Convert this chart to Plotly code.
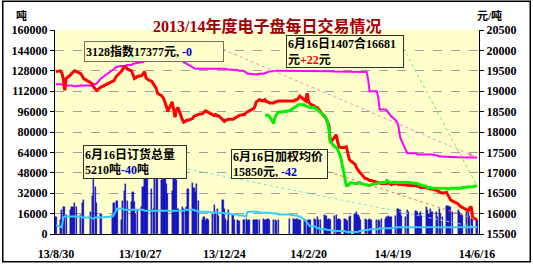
import pandas as pd
import plotly.graph_objects as go

# ---------------- data ----------------
START, END = "2013-08-30", "2014-06-16"
HOLIDAYS = ["2013-09-19", "2013-09-20", "2013-10-01", "2013-10-02", "2013-10-03",
            "2013-10-04", "2013-10-07", "2014-01-01", "2014-01-31", "2014-02-03",
            "2014-02-04", "2014-02-05", "2014-02-06", "2014-04-07", "2014-05-01",
            "2014-05-02", "2014-06-02"]
dates = [d for d in pd.bdate_range(START, END) if d.strftime("%Y-%m-%d") not in HOLIDAYS]

# daily volume (吨), left axis
volume = [13000,
          11000, 19000, 21000, 21000, 15000,
          19000, 21000, 21000, 24000, 21000,
          15000, 24000, 27000,
          17000, 30000, 48000, 37000, 24000,
          16000,
          15000, 24000, 19000, 26000,
          11000, 26000, 34000, 39000, 26000,
          25000, 33000, 25000, 16000, 19000,
          21000, 37000, 49000, 53000, 43000,
          35000, 20000, 49000, 52000, 47000,
          42000, 49000, 43000, 39000, 31000,
          34000, 48000, 44000, 42000, 20000,
          21000, 20000, 20000, 21000, 35000,
          40000, 36000, 33000, 39000, 26000,
          11000, 13000, 10000, 12000, 11000,
          16000, 23000, 17000, 20000, 14000,
          27000, 20000, 12000, 10000, 19000,
          15000, 11000, 11000, 10000,
          11000, 11000, 12000, 10000, 11000,
          11000, 11000, 11000, 11000, 11000,
          12000, 11000, 11000, 12000, 11000,
          11000, 11000, 10000, 11000,
          12000,
          12000, 11000, 12000, 11000, 11000,
          11000, 11000, 10000, 11000, 11000,
          12000, 11000, 13000, 11000, 11000,
          15000, 14000, 11000, 12000, 11000,
          14000, 15000, 11000, 12000, 11000,
          12000, 11000, 10000, 13000, 14000,
          16000, 17000, 15000, 13000, 11000,
          12000, 11000, 11000, 12000, 11000,
          11000, 11000, 10000, 12000,
          12000, 13000, 14000, 13000, 13000,
          14000, 20000, 20000, 19000, 14000,
          13000, 19000, 17000,
          18000, 17000, 15000, 17000, 14000,
          21000, 19000, 16000, 20000, 17000,
          17000, 13000, 20000, 16000, 13000,
          22000, 22000, 21000, 21000, 17000,
          19000, 17000, 16000, 15000,
          17000, 17000, 14000, 12000, 11000,
          11000]

# 订货总量 (吨), left axis
orders = [6860,
          6100, 5330, 12950, 13710, 13710,
          13710, 13710, 13710, 13710, 13710,
          13710, 12950, 12950,
          12950, 12190, 12190, 12950, 12950,
          12950,
          13710, 15240, 17520, 19810,
          19810, 19810, 19050, 19050, 19050,
          19050, 19050, 19050, 19050, 19050,
          19050, 19050, 18290, 18290, 18290,
          18290, 18290, 18290, 18290, 18290,
          18290, 18290, 18290, 18290, 18290,
          18290, 18290, 18290, 18290, 18290,
          18290, 18290, 19050, 19050, 19050,
          19050, 19050, 18290, 18290, 17520,
          17520, 17520, 17520, 17520, 17520,
          16760, 16760, 16760, 16760, 16760,
          16760, 16000, 16000, 16000, 16000,
          15240, 15240, 15240, 14480,
          14480, 13710, 13710, 17520, 17520,
          17520, 17520, 17520, 17520, 16760,
          16760, 16760, 16760, 16760, 16760,
          16000, 16000, 16000, 15240,
          15240,
          14480, 14480, 14480, 13710, 13710,
          11430, 9900, 8380, 6860, 6100,
          6100, 5330, 4570, 4570, 3810,
          3810, 3810, 3050, 3050, 3050,
          2290, 2290, 2290, 2290, 2290,
          2290, 1520, 1520, 1520, 1520,
          1520, 1520, 1520, 2290, 2290,
          3050, 3050, 3050, 3810, 3810,
          3810, 3810, 4570, 4570,
          4570, 4570, 4570, 4570, 4570,
          5330, 5330, 5330, 5330, 5330,
          5330, 5330, 5330,
          5330, 5330, 5330, 5330, 5330,
          5330, 5330, 5330, 5330, 5330,
          5330, 5330, 5330, 5330, 5330,
          5330, 5330, 5330, 5330, 5330,
          5330, 5330, 5330, 5330,
          5330, 5330, 5300, 5280, 5250,
          5210]

# 加权均价 (元/吨), right axis
avg_price = [19480,
             19500, 19450, 19310, 19020, 19310,
             19400, 19450, 19480, 19500, 19480,
             19430, 19380, 19310,
             19210, 19170, 19100, 19050, 19020,
             19100,
             19240, 19260, 19330, 19380,
             19480, 19550, 19600, 19600, 19550,
             19500, 19400, 19310, 19330, 19360,
             19380, 19430, 19480, 19330, 19290,
             19240, 19190, 19140, 19070, 18950,
             18880, 18830, 18740, 18640, 18500,
             18740, 18550, 18360, 18550, 18600,
             18310, 18240, 18260, 18290, 18290,
             18330, 18380, 18400, 18400, 18430,
             18450, 18480, 18520, 18500, 18480,
             18430, 18400, 18430, 18400, 18400,
             18310, 18260, 18290, 18310, 18310,
             18310, 18330, 18380, 18400,
             18430, 18430, 18480, 18500, 18520,
             18570, 18620, 18740, 18760, 18790,
             18760, 18790, 18740, 18740, 18710,
             18710, 18740, 18740, 18760,
             18760,
             18760, 18790, 18790, 18830, 18880,
             18790, 18760, 18950, 18740, 18690,
             18640, 18600, 18600, 18550, 18500,
             18380, 18330, 18240, 18170, 17740,
             17900, 17930, 17760, 17640, 17620,
             17620, 17640, 17450, 17330, 17290,
             17210, 17120, 17050, 17020, 16980,
             16860, 16860, 16830, 16810, 16810,
             16760, 16760, 16740, 16740,
             16740, 16740, 16760, 16740, 16710,
             16740, 16740, 16710, 16740, 16710,
             16710, 16690, 16690,
             16690, 16670, 16670, 16640, 16640,
             16640, 16620, 16620, 16600, 16600,
             16570, 16550, 16550, 16520, 16500,
             16520, 16450, 16360, 16330, 16310,
             16240, 16190, 16170, 16170,
             16100, 16070, 16140, 16170, 15892,
             15850]

# 3128 指数 (元/吨), right axis
index_3128 = [19170,
              19170, 19170, 19140, 19140, 19140,
              19140, 19140, 19120, 19120, 19120,
              19140, 19140, 19140,
              19140, 19140, 19170, 19170, 19190,
              19310,
              19520, 19550, 19570, 19600,
              19620, 19620, 19620, 19620, 19640,
              19640, 19670, 19670, 19690, 19690,
              19710, 19710, 19740, 19740, 19740,
              19740, 19740, 19740, 19740, 19740,
              19740, 19740, 19740, 19740, 19740,
              19740, 19740, 19740, 19740, 19740,
              19740, 19710, 19690, 19670, 19640,
              19570, 19550, 19550, 19550, 19550,
              19550, 19550, 19550, 19550, 19550,
              19550, 19550, 19550, 19550, 19550,
              19550, 19550, 19550, 19530, 19530,
              19520, 19520, 19520, 19500,
              19500, 19480, 19450, 19430, 19430,
              19410, 19410, 19410, 19410, 19430,
              19430, 19450, 19450, 19470, 19480,
              19500, 19500, 19500, 19500,
              19500,
              19500, 19500, 19500, 19500, 19500,
              19500, 19500, 19500, 19500, 19500,
              19500, 19500, 19500, 19500, 19500,
              19490, 19490, 19490, 19490, 19490,
              19480, 19480, 19480, 19480, 19480,
              19480, 19480, 19480, 19480, 19480,
              19480, 19480, 19480, 19480, 19480,
              19480, 19470, 19290, 19000, 19000,
              19000, 18830, 18550, 18550,
              18550, 18520, 18480, 18430, 18380,
              18290, 18240, 18120, 17880, 17790,
              17520, 17480, 17480,
              17480, 17450, 17450, 17450, 17450,
              17450, 17450, 17450, 17450, 17450,
              17430, 17410, 17400, 17400, 17400,
              17400, 17390, 17390, 17390, 17390,
              17380, 17380, 17380, 17380,
              17380, 17380, 17377, 17377, 17377,
              17377]

# 1407 合约 (元/吨), right axis, listed from 2014-01-21
c1407 = [None] * 94 + [
    18410, 18410, 18410, 18380,
    18210, 18380, 18450, 18480,
    18520,
    18600, 18620, 18640, 18670, 18670,
    18670, 18640, 18620, 18600, 18600,
    18600, 18570, 18550, 18520, 18480,
    18400, 18330, 18240, 18070, 17760,
    17640, 17620, 17570, 17500, 17400,
    16860, 16690, 16690, 16740, 16760,
    16740, 16740, 16740, 16760, 16740,
    16710, 16710, 16690, 16690, 16710,
    16740, 16740, 16740, 16760,
    16760, 16810, 16790, 16760, 16760,
    16760, 16760, 16760, 16760, 16760,
    16760, 16760, 16760,
    16740, 16740, 16710, 16710, 16690,
    16670, 16640, 16640, 16640, 16620,
    16620, 16620, 16620, 16620, 16620,
    16620, 16600, 16620, 16620, 16620,
    16620, 16620, 16620, 16640,
    16640, 16650, 16650, 16660, 16659,
    16681]

for name, arr in [("volume", volume), ("orders", orders), ("avg", avg_price),
                  ("index", index_3128), ("c1407", c1407)]:
    if len(arr) != len(dates):
        raise SystemExit(f"{name}: {len(arr)} vs {len(dates)} dates")

TICK_DATES = ["2013-08-30", "2013-10-27", "2013-12-24", "2014-02-20", "2014-04-19", "2014-06-16"]
TICK_TEXT = ["13/8/30", "13/10/27", "13/12/24", "14/2/20", "14/4/19", "14/6/16"]
LEFT_TICKS = [0, 16000, 32000, 48000, 64000, 80000, 96000, 112000, 128000, 144000, 160000]
RIGHT_TICKS = [15500, 16000, 16500, 17000, 17500, 18000, 18500, 19000, 19500, 20000, 20500]

TITLE = "2013/14年度电子盘每日交易情况"
NOTE_INDEX = "3128指数17377元, <span style='color:#0000CC'>-0</span>"
NOTE_1407 = "6月16日1407合16681<br>元<span style='color:#FF0000'>+22</span>元"
NOTE_ORDERS = "6月16日订货总量<br>5210吨<span style='color:#0000CC'>-40</span>吨"
NOTE_AVG = "6月16日加权均价<br>15850元, <span style='color:#0000CC'>-42</span>"

# ---------------- layout geometry ----------------
W, H = 533, 273
ML, MR, MT, MB = 53, 54, 30, 33
PW, PH = W - ML - MR, H - MT - MB
X0 = pd.Timestamp("2013-08-29 07:30")
X1 = pd.Timestamp("2014-06-17 09:00")
Y_RANGE = [0, 160000]
Y2_RANGE = [15500, 20500]


def px(x, y):
    """pixel -> paper"""
    return (x - ML) / PW, (MT + PH - y) / PH


def data_paper(d, v, rng):
    d = pd.Timestamp(d)
    return (d - X0) / (X1 - X0), (v - rng[0]) / (rng[1] - rng[0])


SERIF = "Liberation Serif, Times New Roman, Noto Sans CJK SC, serif"

fig = go.Figure()
fig.add_trace(go.Bar(x=dates, y=volume, yaxis="y", width=0.85 * 86400000,
                     marker=dict(color="#1414E6", line=dict(color="#000090", width=0.4)),
                     hoverinfo="skip"))
fig.add_trace(go.Scatter(x=dates, y=orders, yaxis="y", mode="lines",
                         line=dict(color="#33CCFF", width=2)))
fig.add_trace(go.Scatter(x=dates, y=index_3128, yaxis="y2", mode="lines",
                         line=dict(color="#FF00FF", width=2)))
fig.add_trace(go.Scatter(x=dates, y=avg_price, yaxis="y2", mode="lines",
                         line=dict(color="#FF0000", width=3)))
fig.add_trace(go.Scatter(x=dates, y=c1407, yaxis="y2", mode="lines", connectgaps=False,
                         line=dict(color="#00EE00", width=3)))

tickfont = dict(family=SERIF, size=12, color="black", weight="bold")
fig.update_layout(
    width=W, height=H, autosize=False, showlegend=False,
    margin=dict(l=ML, r=MR, t=MT, b=MB, pad=0),
    paper_bgcolor="white", plot_bgcolor="#FFFFCC",
    bargap=0,
    xaxis=dict(type="date", range=[X0, X1], tickvals=TICK_DATES, ticktext=TICK_TEXT,
               tickfont=tickfont, showgrid=False, zeroline=False,
               showline=True, linecolor="black", linewidth=1,
               ticks="outside", ticklen=9, tickcolor="rgba(0,0,0,0)"),
    yaxis=dict(range=Y_RANGE, tickvals=LEFT_TICKS, ticktext=[str(v) for v in LEFT_TICKS],
               tickfont=tickfont,
               showgrid=True, gridcolor="#A0A0A0", griddash="dash", gridwidth=1,
               zeroline=False, showline=True, linecolor="black", linewidth=1,
               ticks="outside", ticklen=4, tickcolor="black"),
    yaxis2=dict(range=Y2_RANGE, tickvals=RIGHT_TICKS, ticktext=[str(v) for v in RIGHT_TICKS],
                tickfont=tickfont,
                overlaying="y", side="right", showgrid=False, zeroline=False,
                showline=True, linecolor="black", linewidth=1,
                ticks="outside", ticklen=4, tickcolor="black"),
)

# pointer lines from the notes to the last points
pointers = [
    ((222, 50), data_paper(dates[-1], index_3128[-1], Y2_RANGE), "#EE88CC"),
    ((403, 49), data_paper(dates[-1], c1407[-1], Y2_RANGE), "#77DD77"),
    ((328, 176), data_paper(dates[-1], avg_price[-1], Y2_RANGE), "#DD7777"),
    ((186, 173), data_paper(dates[-1], orders[-1], Y_RANGE), "#77E0E0"),
]
for (sx, sy), (ex, ey), col in pointers:
    x0p, y0p = px(sx, sy)
    fig.add_shape(type="line", xref="paper", yref="paper", x0=x0p, y0=y0p, x1=ex, y1=ey,
                  line=dict(color=col, width=1, dash="dot"))

fig.add_annotation(x=dates[-1], y=index_3128[-1], xref="x", yref="y2", text="",
                   showarrow=True, arrowhead=2, arrowsize=0.7, arrowwidth=1,
                   arrowcolor="#DD66CC", ax=-9, ay=-4, standoff=5)

notefont = dict(family=SERIF, size=12, color="black", weight="bold")
notes = [
    (NOTE_INDEX, (82, 41), 136, 17, "#707060"),
    (NOTE_1407, (285, 35), 114, 29, "#303030"),
    (NOTE_ORDERS, (81, 148), 100, 30, "#303030"),
    (NOTE_AVG, (230, 152), 93, 26, "#303030"),
]
for text, (bx, by), w, h, bc in notes:
    xp, yp = px(bx, by)
    fig.add_annotation(x=xp, y=yp, xref="paper", yref="paper", xanchor="left", yanchor="top",
                       text=text, showarrow=False, align="left", valign="middle",
                       width=w, height=h, bgcolor="#FFFFCC", bordercolor=bc,
                       borderwidth=1, borderpad=1, font=notefont)

# title and axis unit labels
tx, ty = px(266, 15)
fig.add_annotation(x=tx, y=ty, xref="paper", yref="paper", text=TITLE, showarrow=False,
                   font=dict(family=SERIF, size=16, color="#A00000", weight="bold"))
unitfont = dict(family=SERIF, size=11, color="black", weight="bold")
ux, uy = px(13, 8)
fig.add_annotation(x=ux, y=uy, xref="paper", yref="paper", text="吨", showarrow=False,
                   height=11, borderpad=0, valign="middle", font=unitfont)
ux, uy = px(503, 8)
fig.add_annotation(x=ux, y=uy, xref="paper", yref="paper", text="元/吨", showarrow=False,
                   height=11, borderpad=0, valign="middle", font=unitfont)

# outer frame
fx0, fy0 = px(0.5, 268.5)
fx1, fy1 = px(530.5, 0.5)
fig.add_shape(type="rect", xref="paper", yref="paper", x0=fx0, y0=fy0, x1=fx1, y1=fy1,
              line=dict(color="black", width=1.5), layer="above")

fig.write_html("out.html")
